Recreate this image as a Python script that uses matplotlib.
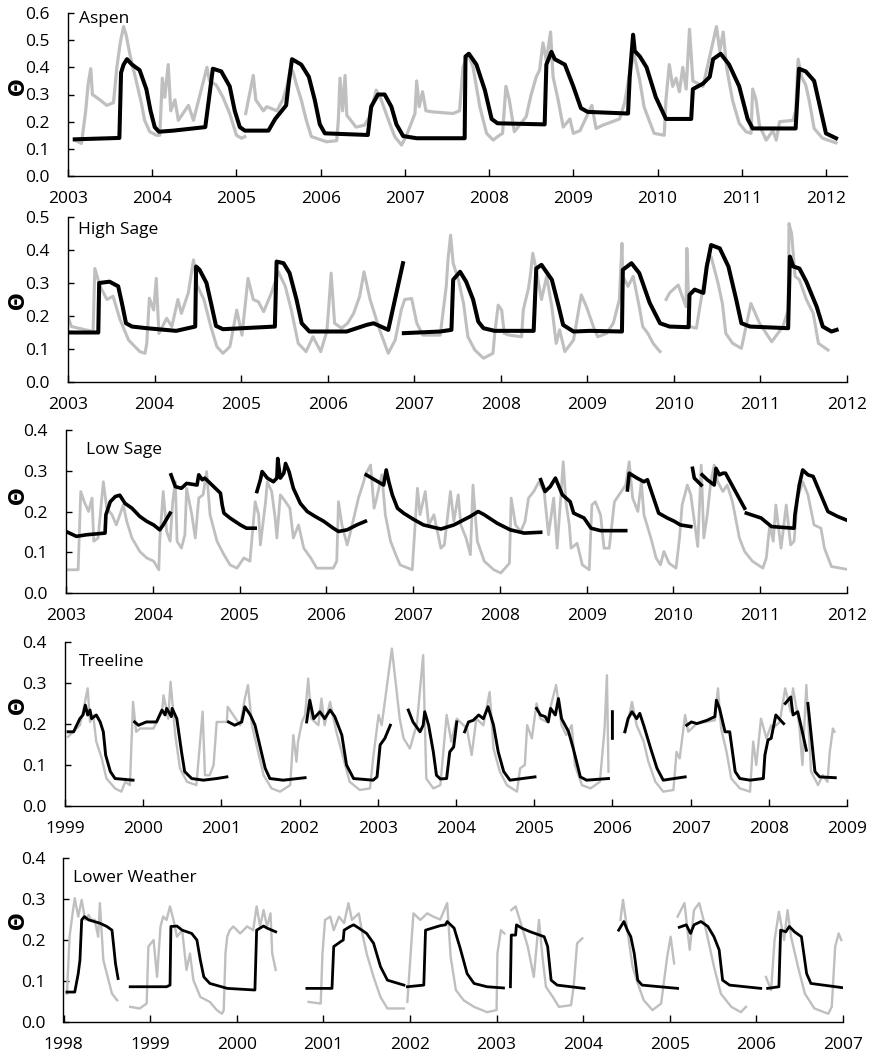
import numpy as np
import matplotlib.pyplot as plt
from matplotlib.ticker import FormatStrFormatter

plt.rcParams['font.family'] = ['Open Sans', 'DejaVu Sans']

GAP = (np.nan, np.nan)

# ---- Aspen ----
aspen_deep = [(2003.08, 0.135), (2003.60, 0.14), (2003.61, 0.14), (2003.63, 0.38), (2003.66, 0.41),
              (2003.70, 0.43), (2003.76, 0.41), (2003.85, 0.39), (2003.93, 0.32), (2003.98, 0.24),
              (2004.03, 0.18), (2004.08, 0.163), (2004.25, 0.167), (2004.63, 0.18), (2004.72, 0.395),
              (2004.82, 0.385), (2004.92, 0.33), (2004.98, 0.24), (2005.04, 0.18), (2005.10, 0.167),
              (2005.38, 0.167), (2005.46, 0.21), (2005.59, 0.26), (2005.62, 0.34), (2005.66, 0.43),
              (2005.77, 0.41), (2005.86, 0.365), (2005.93, 0.28), (2005.99, 0.19), (2006.05, 0.157),
              (2006.56, 0.151), (2006.60, 0.255), (2006.68, 0.30), (2006.76, 0.30), (2006.84, 0.255),
              (2006.90, 0.19), (2006.98, 0.147), (2007.14, 0.139), (2007.71, 0.139), (2007.72, 0.44),
              (2007.76, 0.45), (2007.85, 0.41), (2007.95, 0.316), (2008.03, 0.21), (2008.10, 0.194),
              (2008.66, 0.19), (2008.68, 0.41), (2008.74, 0.457), (2008.78, 0.43), (2008.90, 0.41),
              (2009.00, 0.33), (2009.09, 0.25), (2009.17, 0.236), (2009.65, 0.23), (2009.67, 0.365),
              (2009.71, 0.52), (2009.73, 0.46), (2009.79, 0.44), (2009.87, 0.40), (2009.98, 0.29),
              (2010.10, 0.21), (2010.40, 0.21), (2010.42, 0.32), (2010.54, 0.34), (2010.62, 0.365),
              (2010.66, 0.43), (2010.75, 0.45), (2010.85, 0.41), (2010.97, 0.33), (2011.07, 0.21),
              (2011.13, 0.175), (2011.64, 0.175), (2011.68, 0.395), (2011.76, 0.385), (2011.86, 0.35),
              (2011.94, 0.24), (2012.00, 0.157), (2012.12, 0.139)]
aspen_shallow = [(2003.08, 0.132), (2003.16, 0.12), (2003.21, 0.24), (2003.24, 0.34), (2003.27, 0.395),
                 (2003.29, 0.30), (2003.38, 0.28), (2003.46, 0.26), (2003.54, 0.27), (2003.58, 0.40),
                 (2003.62, 0.49), (2003.66, 0.55), (2003.69, 0.52), (2003.74, 0.44), (2003.81, 0.35),
                 (2003.87, 0.27), (2003.91, 0.205), (2003.97, 0.163), (2004.05, 0.15), (2004.09, 0.15),
                 (2004.12, 0.36), (2004.15, 0.29), (2004.19, 0.41), (2004.22, 0.24), (2004.27, 0.28),
                 (2004.31, 0.205), (2004.43, 0.26), (2004.49, 0.205), (2004.65, 0.40), (2004.68, 0.35),
                 (2004.76, 0.335), (2004.84, 0.29), (2004.92, 0.23), (2005.00, 0.15), (2005.06, 0.139),
                 (2005.10, 0.145), GAP, (2005.11, 0.23), (2005.20, 0.37), (2005.23, 0.28), (2005.32, 0.24),
                 (2005.36, 0.255), (2005.48, 0.24), (2005.55, 0.28), (2005.60, 0.33), (2005.64, 0.395),
                 (2005.67, 0.385), (2005.71, 0.34), (2005.77, 0.28), (2005.83, 0.205), (2005.89, 0.145),
                 (2006.07, 0.126), (2006.19, 0.13), (2006.21, 0.205), (2006.23, 0.36), (2006.26, 0.24),
                 (2006.29, 0.37), (2006.31, 0.224), (2006.42, 0.18), (2006.52, 0.187), (2006.58, 0.218),
                 (2006.66, 0.316), (2006.72, 0.28), (2006.80, 0.21), (2006.88, 0.145), (2006.96, 0.114),
                 (2007.02, 0.15), (2007.12, 0.23), (2007.14, 0.35), (2007.17, 0.255), (2007.21, 0.31),
                 (2007.25, 0.24), (2007.33, 0.236), (2007.57, 0.23), (2007.65, 0.24), (2007.69, 0.40),
                 (2007.75, 0.45), (2007.81, 0.40), (2007.89, 0.255), (2007.97, 0.157), (2008.05, 0.132),
                 (2008.10, 0.145), (2008.16, 0.157), (2008.20, 0.33), (2008.24, 0.28), (2008.30, 0.163),
                 (2008.44, 0.218), (2008.50, 0.30), (2008.56, 0.365), (2008.60, 0.39), (2008.64, 0.49),
                 (2008.68, 0.425), (2008.73, 0.53), (2008.76, 0.365), (2008.82, 0.28), (2008.88, 0.18),
                 (2008.96, 0.21), (2009.00, 0.157), (2009.08, 0.167), (2009.22, 0.26), (2009.27, 0.175),
                 (2009.35, 0.187), (2009.55, 0.21), (2009.61, 0.27), (2009.67, 0.38), (2009.72, 0.45),
                 (2009.79, 0.35), (2009.84, 0.255), (2009.90, 0.205), (2009.96, 0.157), (2010.08, 0.15),
                 (2010.10, 0.28), (2010.14, 0.41), (2010.18, 0.33), (2010.22, 0.36), (2010.26, 0.31),
                 (2010.30, 0.40), (2010.34, 0.32), (2010.38, 0.54), (2010.42, 0.35), (2010.54, 0.33),
                 (2010.62, 0.44), (2010.70, 0.55), (2010.74, 0.46), (2010.78, 0.53), (2010.82, 0.40),
                 (2010.89, 0.28), (2010.97, 0.194), (2011.05, 0.163), (2011.11, 0.157), (2011.13, 0.32),
                 (2011.17, 0.28), (2011.21, 0.187), (2011.29, 0.132), (2011.37, 0.167), (2011.41, 0.132),
                 (2011.45, 0.20), (2011.61, 0.205), (2011.64, 0.24), (2011.67, 0.43), (2011.71, 0.365),
                 (2011.76, 0.335), (2011.80, 0.28), (2011.86, 0.175), (2011.96, 0.139), (2012.12, 0.122)]

# ---- High Sage ----
high_deep = [(2003.00, 0.15), (2003.35, 0.15), (2003.36, 0.30), (2003.48, 0.304), (2003.58, 0.29),
             (2003.63, 0.23), (2003.67, 0.178), (2003.74, 0.168), (2003.91, 0.163), (2004.25, 0.155),
             (2004.47, 0.168), (2004.48, 0.35), (2004.52, 0.34), (2004.60, 0.30), (2004.66, 0.23),
             (2004.71, 0.17), (2004.79, 0.16), (2005.39, 0.168), (2005.41, 0.365), (2005.49, 0.36),
             (2005.56, 0.33), (2005.64, 0.25), (2005.70, 0.178), (2005.79, 0.153), (2006.22, 0.153),
             (2006.45, 0.173), (2006.53, 0.178), (2006.70, 0.158), (2006.87, 0.36), GAP,
             (2006.88, 0.148), (2007.30, 0.153), (2007.43, 0.158), (2007.45, 0.31), (2007.53, 0.334),
             (2007.60, 0.304), (2007.68, 0.25), (2007.74, 0.183), (2007.80, 0.163), (2007.93, 0.155),
             (2008.38, 0.155), (2008.41, 0.344), (2008.47, 0.355), (2008.59, 0.31), (2008.67, 0.228),
             (2008.72, 0.173), (2008.84, 0.153), (2009.03, 0.155), (2009.40, 0.153), (2009.41, 0.34),
             (2009.51, 0.36), (2009.60, 0.33), (2009.72, 0.24), (2009.84, 0.178), (2009.95, 0.168),
             (2010.17, 0.166), (2010.18, 0.264), (2010.24, 0.28), (2010.34, 0.27), (2010.38, 0.35),
             (2010.43, 0.415), (2010.53, 0.405), (2010.63, 0.35), (2010.72, 0.25), (2010.78, 0.178),
             (2010.88, 0.168), (2011.32, 0.163), (2011.34, 0.38), (2011.38, 0.35), (2011.45, 0.344),
             (2011.53, 0.304), (2011.65, 0.228), (2011.72, 0.168), (2011.82, 0.153), (2011.88, 0.158)]
high_shallow = [(2003.00, 0.198), (2003.04, 0.168), (2003.29, 0.153), (2003.31, 0.344), (2003.37, 0.29),
                (2003.45, 0.25), (2003.52, 0.26), (2003.60, 0.19), (2003.70, 0.127), (2003.83, 0.092),
                (2003.89, 0.087), (2003.91, 0.117), (2003.94, 0.254), (2003.99, 0.218), (2004.02, 0.314),
                (2004.05, 0.147), (2004.14, 0.193), (2004.20, 0.168), (2004.27, 0.25), (2004.31, 0.208),
                (2004.39, 0.27), (2004.45, 0.37), (2004.49, 0.294), (2004.57, 0.25), (2004.65, 0.168),
                (2004.72, 0.107), (2004.79, 0.087), (2004.87, 0.107), (2004.95, 0.218), (2005.01, 0.142),
                (2005.08, 0.314), (2005.14, 0.25), (2005.20, 0.243), (2005.26, 0.213), (2005.35, 0.27),
                (2005.43, 0.334), (2005.51, 0.29), (2005.58, 0.218), (2005.66, 0.117), (2005.75, 0.092),
                (2005.83, 0.137), (2005.92, 0.092), (2005.99, 0.153), (2006.01, 0.218), (2006.04, 0.33),
                (2006.08, 0.178), (2006.16, 0.163), (2006.23, 0.178), (2006.30, 0.208), (2006.37, 0.26),
                (2006.42, 0.334), (2006.49, 0.25), (2006.60, 0.158), (2006.70, 0.087), (2006.78, 0.127),
                (2006.85, 0.218), (2006.89, 0.25), (2006.97, 0.253), (2007.03, 0.178), (2007.10, 0.142),
                (2007.30, 0.142), (2007.37, 0.29), (2007.39, 0.37), (2007.42, 0.445), (2007.45, 0.36),
                (2007.51, 0.31), (2007.57, 0.238), (2007.62, 0.137), (2007.70, 0.097), (2007.80, 0.072),
                (2007.91, 0.087), (2007.93, 0.147), (2007.97, 0.233), (2008.01, 0.218), (2008.04, 0.147),
                (2008.10, 0.142), (2008.24, 0.137), (2008.26, 0.218), (2008.32, 0.284), (2008.34, 0.32),
                (2008.37, 0.39), (2008.41, 0.34), (2008.47, 0.25), (2008.53, 0.32), (2008.59, 0.228),
                (2008.64, 0.117), (2008.68, 0.158), (2008.74, 0.092), (2008.84, 0.127), (2008.93, 0.264),
                (2008.99, 0.228), (2009.07, 0.168), (2009.12, 0.137), (2009.22, 0.147), (2009.30, 0.178),
                (2009.37, 0.25), (2009.40, 0.42), (2009.41, 0.32), (2009.47, 0.29), (2009.53, 0.32),
                (2009.60, 0.228), (2009.64, 0.168), (2009.70, 0.147), (2009.76, 0.117), (2009.84, 0.092),
                GAP, (2009.91, 0.25), (2009.95, 0.27), (2010.05, 0.294), (2010.14, 0.228), (2010.15, 0.405),
                (2010.18, 0.168), (2010.26, 0.163), (2010.30, 0.228), (2010.34, 0.29), (2010.38, 0.36),
                (2010.43, 0.38), (2010.51, 0.30), (2010.56, 0.238), (2010.60, 0.147), (2010.68, 0.117),
                (2010.78, 0.102), (2010.89, 0.238), (2010.99, 0.178), (2011.13, 0.122), (2011.26, 0.168),
                (2011.32, 0.218), (2011.33, 0.48), (2011.36, 0.45), (2011.40, 0.32), (2011.45, 0.31),
                (2011.53, 0.25), (2011.61, 0.208), (2011.67, 0.117), (2011.78, 0.097)]

# ---- Low Sage ----
low_deep = [(2003.00, 0.151), (2003.12, 0.139), (2003.24, 0.143), (2003.45, 0.147), (2003.46, 0.192),
            (2003.51, 0.224), (2003.57, 0.237), (2003.62, 0.24), (2003.68, 0.22), (2003.76, 0.208),
            (2003.85, 0.188), (2003.93, 0.176), (2004.01, 0.167), (2004.08, 0.155), (2004.12, 0.167),
            (2004.20, 0.196), GAP, (2004.21, 0.29), (2004.26, 0.261), (2004.33, 0.257), (2004.39, 0.269),
            (2004.51, 0.265), (2004.53, 0.29), (2004.57, 0.278), (2004.60, 0.282), (2004.78, 0.245),
            (2004.80, 0.216), (2004.82, 0.196), (2004.89, 0.184), (2005.01, 0.167), (2005.08, 0.159),
            (2005.18, 0.159), GAP, (2005.20, 0.249), (2005.24, 0.278), (2005.26, 0.298), (2005.32, 0.282),
            (2005.39, 0.273), (2005.43, 0.282), (2005.44, 0.33), (2005.47, 0.282), (2005.51, 0.294),
            (2005.53, 0.318), (2005.57, 0.298), (2005.62, 0.257), (2005.70, 0.22), (2005.78, 0.20),
            (2005.87, 0.188), (2005.97, 0.176), (2006.08, 0.159), (2006.14, 0.151), (2006.24, 0.155),
            (2006.35, 0.167), (2006.45, 0.176), GAP, (2006.46, 0.29), (2006.66, 0.265), (2006.69, 0.302),
            (2006.72, 0.273), (2006.76, 0.241), (2006.82, 0.208), (2006.89, 0.196), (2007.01, 0.18),
            (2007.12, 0.167), (2007.32, 0.157), (2007.47, 0.167), (2007.66, 0.188), (2007.75, 0.20),
            (2007.82, 0.192), (2007.97, 0.171), (2008.12, 0.155), (2008.28, 0.147), (2008.47, 0.149),
            GAP, (2008.47, 0.278), (2008.52, 0.249), (2008.58, 0.261), (2008.64, 0.282), (2008.72, 0.241),
            (2008.81, 0.224), (2008.85, 0.196), (2008.97, 0.184), (2009.05, 0.159), (2009.16, 0.153),
            (2009.45, 0.153), GAP, (2009.47, 0.253), (2009.49, 0.294), (2009.58, 0.282), (2009.66, 0.273),
            (2009.70, 0.278), (2009.83, 0.196), (2009.93, 0.184), (2010.01, 0.176), (2010.08, 0.167),
            (2010.20, 0.163), GAP, (2010.22, 0.306), (2010.24, 0.282), (2010.32, 0.265), GAP,
            (2010.33, 0.29), (2010.39, 0.278), (2010.47, 0.265), (2010.49, 0.306), (2010.53, 0.29),
            (2010.57, 0.294), (2010.60, 0.294), (2010.82, 0.208), GAP, (2010.84, 0.196), (2011.01, 0.184),
            (2011.13, 0.163), (2011.39, 0.159), (2011.40, 0.192), (2011.45, 0.265), (2011.49, 0.302),
            (2011.55, 0.29), (2011.61, 0.286), (2011.78, 0.20), (2011.89, 0.188), (2012.03, 0.176)]
low_shallow = [(2003.00, 0.057), (2003.14, 0.057), (2003.17, 0.249), (2003.21, 0.224), (2003.26, 0.20),
               (2003.30, 0.233), (2003.32, 0.127), (2003.37, 0.135), (2003.43, 0.273), (2003.47, 0.208),
               (2003.53, 0.192), (2003.58, 0.167), (2003.66, 0.216), (2003.70, 0.176), (2003.76, 0.135),
               (2003.85, 0.102), (2003.93, 0.086), (2004.01, 0.078), (2004.07, 0.057), (2004.08, 0.127),
               (2004.12, 0.249), (2004.16, 0.151), (2004.20, 0.127), (2004.23, 0.224), (2004.26, 0.273),
               (2004.28, 0.127), (2004.33, 0.11), (2004.37, 0.143), (2004.39, 0.257), (2004.45, 0.192),
               (2004.49, 0.135), (2004.53, 0.233), (2004.58, 0.241), (2004.62, 0.298), (2004.66, 0.192),
               (2004.74, 0.127), (2004.82, 0.094), (2004.89, 0.069), (2004.97, 0.061), (2005.05, 0.086),
               (2005.12, 0.078), (2005.18, 0.224), (2005.22, 0.192), (2005.24, 0.118), (2005.30, 0.224),
               (2005.32, 0.273), (2005.37, 0.249), (2005.41, 0.184), (2005.43, 0.135), (2005.47, 0.241),
               (2005.53, 0.224), (2005.58, 0.208), (2005.62, 0.135), (2005.68, 0.167), (2005.74, 0.11),
               (2005.82, 0.086), (2005.89, 0.061), (2006.08, 0.061), (2006.12, 0.078), (2006.14, 0.224),
               (2006.18, 0.167), (2006.24, 0.118), (2006.28, 0.151), (2006.37, 0.233), (2006.43, 0.273),
               (2006.45, 0.29), (2006.51, 0.314), (2006.55, 0.208), (2006.58, 0.233), (2006.64, 0.29),
               (2006.68, 0.192), (2006.74, 0.127), (2006.80, 0.094), (2006.85, 0.069), (2006.99, 0.057),
               (2007.05, 0.257), (2007.08, 0.192), (2007.14, 0.249), (2007.18, 0.167), (2007.24, 0.192),
               (2007.32, 0.11), (2007.36, 0.118), (2007.43, 0.249), (2007.47, 0.176), (2007.52, 0.241),
               (2007.55, 0.167), (2007.61, 0.135), (2007.66, 0.094), (2007.69, 0.265), (2007.74, 0.127),
               (2007.82, 0.078), (2007.93, 0.057), (2008.01, 0.049), (2008.11, 0.073), (2008.13, 0.233),
               (2008.18, 0.167), (2008.24, 0.151), (2008.29, 0.176), (2008.33, 0.233), (2008.39, 0.249),
               (2008.45, 0.273), (2008.51, 0.249), (2008.56, 0.143), (2008.62, 0.233), (2008.66, 0.11),
               (2008.73, 0.322), (2008.76, 0.224), (2008.80, 0.167), (2008.82, 0.11), (2008.89, 0.122),
               (2008.95, 0.069), (2009.03, 0.057), (2009.06, 0.216), (2009.10, 0.224), (2009.16, 0.192),
               (2009.20, 0.11), (2009.26, 0.11), (2009.32, 0.224), (2009.40, 0.249), (2009.45, 0.265),
               (2009.49, 0.322), (2009.53, 0.233), (2009.59, 0.20), (2009.63, 0.273), (2009.66, 0.192),
               (2009.74, 0.135), (2009.80, 0.086), (2009.85, 0.069), (2009.89, 0.102), (2009.95, 0.073),
               (2010.03, 0.061), (2010.07, 0.135), (2010.10, 0.216), (2010.16, 0.265), (2010.20, 0.241),
               (2010.28, 0.114), (2010.32, 0.314), (2010.35, 0.135), (2010.39, 0.192), (2010.43, 0.273),
               (2010.47, 0.314), (2010.51, 0.273), (2010.57, 0.249), (2010.62, 0.265), (2010.68, 0.224),
               (2010.76, 0.135), (2010.82, 0.102), (2010.91, 0.078), (2011.03, 0.061), (2011.07, 0.086),
               (2011.11, 0.167), (2011.15, 0.127), (2011.18, 0.216), (2011.24, 0.11), (2011.30, 0.216),
               (2011.35, 0.118), (2011.39, 0.127), (2011.43, 0.233), (2011.49, 0.273), (2011.55, 0.241),
               (2011.62, 0.167), (2011.70, 0.159), (2011.74, 0.11), (2011.82, 0.065), (2012.03, 0.057)]

# ---- Treeline ----
tree_deep = [(1999.04, 0.181), (1999.11, 0.181), (1999.15, 0.197), (1999.19, 0.213), (1999.23, 0.222),
             (1999.26, 0.246), (1999.29, 0.222), (1999.32, 0.234), (1999.34, 0.213), (1999.40, 0.222),
             (1999.45, 0.205), (1999.49, 0.181), (1999.52, 0.124), (1999.58, 0.084), (1999.64, 0.067),
             (1999.87, 0.063), GAP, (1999.89, 0.205), (1999.94, 0.197), (2000.04, 0.205), (2000.17, 0.205),
             (2000.24, 0.234), (2000.28, 0.222), (2000.30, 0.238), (2000.36, 0.218), (2000.37, 0.238),
             (2000.43, 0.213), (2000.49, 0.132), (2000.53, 0.084), (2000.62, 0.067), (2000.77, 0.063),
             (2000.94, 0.067), (2001.07, 0.071), GAP, (2001.09, 0.205), (2001.17, 0.197), (2001.26, 0.205),
             (2001.30, 0.242), (2001.37, 0.222), (2001.43, 0.197), (2001.49, 0.149), (2001.56, 0.092),
             (2001.62, 0.067), (2001.79, 0.063), (2002.07, 0.069), GAP, (2002.09, 0.205), (2002.13, 0.258),
             (2002.18, 0.213), (2002.26, 0.23), (2002.32, 0.213), (2002.39, 0.234), (2002.45, 0.218),
             (2002.54, 0.173), (2002.60, 0.10), (2002.69, 0.067), (2002.94, 0.063), (2002.99, 0.071),
             (2003.03, 0.149), (2003.09, 0.165), (2003.16, 0.197), GAP, (2003.39, 0.234), (2003.45, 0.205),
             (2003.54, 0.181), (2003.58, 0.197), (2003.60, 0.23), (2003.65, 0.197), (2003.71, 0.132),
             (2003.75, 0.075), (2003.80, 0.066), (2003.88, 0.067), (2003.92, 0.132), (2003.97, 0.144),
             (2004.01, 0.205), GAP, (2004.11, 0.181), (2004.16, 0.205), (2004.22, 0.209), (2004.29, 0.222),
             (2004.35, 0.213), (2004.41, 0.242), (2004.48, 0.197), (2004.54, 0.132), (2004.61, 0.084),
             (2004.69, 0.063), (2005.01, 0.071), GAP, (2005.03, 0.238), (2005.08, 0.222), (2005.14, 0.218),
             (2005.18, 0.205), (2005.21, 0.238), (2005.27, 0.222), (2005.31, 0.262), (2005.35, 0.213),
             (2005.44, 0.181), (2005.50, 0.14), (2005.59, 0.071), (2005.67, 0.063), (2005.95, 0.067), GAP,
             (2006.00, 0.23), (2006.00, 0.165), GAP, (2006.16, 0.181), (2006.20, 0.213), (2006.25, 0.23),
             (2006.31, 0.213), (2006.35, 0.226), (2006.40, 0.197), (2006.49, 0.14), (2006.57, 0.092),
             (2006.65, 0.063), (2006.93, 0.071), GAP, (2006.95, 0.197), (2007.01, 0.205), (2007.08, 0.201),
             (2007.21, 0.209), (2007.31, 0.218), (2007.33, 0.258), (2007.37, 0.238), (2007.44, 0.181),
             (2007.50, 0.181), (2007.57, 0.084), (2007.63, 0.067), (2007.76, 0.063), (2007.93, 0.067),
             (2007.95, 0.124), (2007.99, 0.161), (2008.03, 0.165), (2008.09, 0.222), (2008.15, 0.209),
             (2008.19, 0.201), GAP, (2008.21, 0.25), (2008.28, 0.266), (2008.31, 0.222), (2008.37, 0.23),
             (2008.41, 0.197), (2008.48, 0.136), GAP, (2008.50, 0.25), (2008.55, 0.157), (2008.59, 0.084),
             (2008.65, 0.071), (2008.85, 0.069)]
tree_shallow = [(1999.04, 0.169), (1999.19, 0.197), (1999.23, 0.23), (1999.29, 0.287), (1999.32, 0.205),
                (1999.36, 0.222), (1999.40, 0.157), (1999.47, 0.116), (1999.53, 0.067), (1999.64, 0.043),
                (1999.72, 0.035), (1999.77, 0.059), (1999.83, 0.051), (1999.87, 0.254), (1999.91, 0.181),
                (1999.96, 0.189), (2000.13, 0.189), (2000.24, 0.23), (2000.26, 0.27), (2000.32, 0.213),
                (2000.35, 0.303), (2000.41, 0.173), (2000.47, 0.092), (2000.56, 0.059), (2000.68, 0.051),
                (2000.76, 0.23), (2000.79, 0.075), (2000.85, 0.075), (2000.90, 0.10), (2000.94, 0.205),
                (2001.07, 0.205), (2001.08, 0.242), (2001.24, 0.197), (2001.30, 0.262), (2001.34, 0.295),
                (2001.39, 0.197), (2001.47, 0.132), (2001.54, 0.075), (2001.64, 0.043), (2001.75, 0.035),
                (2001.88, 0.051), (2001.92, 0.173), (2001.96, 0.108), (2001.98, 0.157), (2002.03, 0.205),
                (2002.07, 0.222), (2002.11, 0.311), (2002.15, 0.213), (2002.24, 0.197), (2002.28, 0.262),
                (2002.32, 0.197), (2002.39, 0.254), (2002.47, 0.181), (2002.56, 0.116), (2002.64, 0.059),
                (2002.77, 0.039), (2002.90, 0.043), (2002.94, 0.116), (2003.01, 0.222), (2003.05, 0.197),
                (2003.18, 0.384), (2003.28, 0.213), (2003.33, 0.165), (2003.41, 0.14), (2003.50, 0.20),
                (2003.58, 0.368), (2003.62, 0.067), (2003.71, 0.043), (2003.80, 0.051), (2003.88, 0.222),
                (2003.94, 0.157), (2004.01, 0.213), (2004.14, 0.189), (2004.20, 0.124), (2004.26, 0.213),
                (2004.35, 0.197), (2004.43, 0.278), (2004.48, 0.14), (2004.56, 0.084), (2004.65, 0.051),
                (2004.78, 0.035), (2004.82, 0.092), (2004.88, 0.10), (2004.91, 0.197), (2004.97, 0.165),
                (2005.03, 0.25), (2005.08, 0.213), (2005.16, 0.205), (2005.28, 0.295), (2005.35, 0.197),
                (2005.41, 0.173), (2005.48, 0.197), (2005.52, 0.10), (2005.61, 0.051), (2005.72, 0.043),
                (2005.84, 0.059), (2005.90, 0.189), (2005.93, 0.319), (2005.95, 0.084), GAP,
                (2006.15, 0.181), (2006.19, 0.197), (2006.25, 0.254), (2006.31, 0.197), (2006.40, 0.157),
                (2006.46, 0.108), (2006.55, 0.059), (2006.65, 0.035), (2006.78, 0.039), (2006.82, 0.132),
                (2006.86, 0.116), (2006.93, 0.222), (2006.97, 0.181), (2007.08, 0.201), (2007.31, 0.209),
                (2007.35, 0.287), (2007.39, 0.189), (2007.46, 0.132), (2007.52, 0.067), (2007.63, 0.043),
                (2007.76, 0.035), (2007.80, 0.157), (2007.84, 0.10), (2007.90, 0.213), (2007.97, 0.165),
                (2008.03, 0.197), (2008.05, 0.189), (2008.14, 0.205), (2008.21, 0.287), (2008.28, 0.23),
                (2008.31, 0.287), (2008.39, 0.197), (2008.43, 0.10), (2008.48, 0.295), (2008.54, 0.084),
                (2008.63, 0.051), (2008.69, 0.075), (2008.75, 0.059), (2008.78, 0.132), (2008.82, 0.189),
                (2008.84, 0.181)]

# ---- Lower Weather ----
lower_deep = [(1998.04, 0.073), (1998.13, 0.073), (1998.17, 0.118), (1998.19, 0.151), (1998.21, 0.249),
              (1998.24, 0.257), (1998.29, 0.249), (1998.42, 0.241), (1998.50, 0.233), (1998.56, 0.224),
              (1998.58, 0.184), (1998.60, 0.143), (1998.63, 0.106), GAP, (1998.77, 0.086), (1999.19, 0.086),
              (1999.23, 0.09), (1999.24, 0.233), (1999.31, 0.234), (1999.37, 0.224), (1999.48, 0.216),
              (1999.54, 0.20), (1999.58, 0.151), (1999.62, 0.11), (1999.69, 0.094), (1999.89, 0.082),
              (2000.21, 0.078), (2000.23, 0.224), (2000.31, 0.234), (2000.35, 0.229), (2000.45, 0.22), GAP,
              (2000.81, 0.082), (2001.10, 0.082), (2001.12, 0.184), (2001.20, 0.196), (2001.23, 0.20),
              (2001.24, 0.224), (2001.31, 0.233), (2001.35, 0.237), (2001.41, 0.229), (2001.50, 0.216),
              (2001.58, 0.192), (2001.66, 0.135), (2001.74, 0.102), (2001.93, 0.09), GAP, (2001.97, 0.086),
              (2002.16, 0.09), (2002.18, 0.224), (2002.35, 0.235), (2002.41, 0.237), (2002.43, 0.245),
              (2002.51, 0.229), (2002.58, 0.18), (2002.66, 0.118), (2002.74, 0.094), (2002.89, 0.086),
              (2003.08, 0.083), GAP, (2003.16, 0.086), (2003.17, 0.212), (2003.22, 0.212), (2003.23, 0.237),
              (2003.29, 0.229), (2003.39, 0.22), (2003.55, 0.208), (2003.59, 0.184), (2003.63, 0.102),
              (2003.70, 0.09), (2004.01, 0.082), GAP, (2004.41, 0.224), (2004.47, 0.245), (2004.51, 0.224),
              (2004.55, 0.208), (2004.59, 0.167), (2004.63, 0.102), (2004.68, 0.09), (2005.09, 0.082), GAP,
              (2005.11, 0.231), (2005.19, 0.237), (2005.24, 0.216), (2005.28, 0.237), (2005.36, 0.245),
              (2005.44, 0.233), (2005.51, 0.208), (2005.57, 0.176), (2005.61, 0.102), (2005.69, 0.09),
              (2006.05, 0.082), GAP, (2006.13, 0.082), (2006.26, 0.086), (2006.28, 0.224), (2006.34, 0.22),
              (2006.38, 0.233), (2006.44, 0.22), (2006.52, 0.208), (2006.58, 0.118), (2006.63, 0.094),
              (2007.02, 0.083)]
lower_shallow = [(1998.04, 0.069), (1998.07, 0.208), (1998.11, 0.273), (1998.13, 0.302), (1998.17, 0.257),
                 (1998.21, 0.298), (1998.25, 0.249), (1998.29, 0.261), (1998.32, 0.249), (1998.36, 0.249),
                 (1998.40, 0.208), (1998.42, 0.29), (1998.46, 0.151), (1998.50, 0.118), (1998.56, 0.069),
                 (1998.62, 0.053), GAP, (1998.77, 0.037), (1998.88, 0.033), (1998.96, 0.045), (1998.98, 0.184),
                 (1999.04, 0.20), (1999.08, 0.11), (1999.12, 0.233), (1999.15, 0.257), (1999.19, 0.249),
                 (1999.23, 0.282), (1999.27, 0.249), (1999.31, 0.208), (1999.37, 0.224), (1999.42, 0.127),
                 (1999.46, 0.167), (1999.50, 0.102), (1999.58, 0.061), (1999.69, 0.049), (1999.77, 0.029),
                 (1999.83, 0.02), (1999.85, 0.029), (1999.87, 0.167), (1999.89, 0.208), (1999.92, 0.224),
                 (1999.96, 0.233), (2000.04, 0.216), (2000.12, 0.233), (2000.19, 0.224), (2000.23, 0.282),
                 (2000.27, 0.233), (2000.31, 0.273), (2000.35, 0.233), (2000.39, 0.265), (2000.41, 0.167),
                 (2000.45, 0.127), GAP, (2000.83, 0.049), (2000.97, 0.045), (2000.99, 0.167), (2001.02, 0.249),
                 (2001.08, 0.257), (2001.12, 0.224), (2001.18, 0.257), (2001.24, 0.241), (2001.29, 0.29),
                 (2001.33, 0.249), (2001.41, 0.265), (2001.45, 0.216), (2001.50, 0.167), (2001.58, 0.11),
                 (2001.66, 0.061), (2001.74, 0.033), (2001.93, 0.033), GAP, (2001.97, 0.049), (2002.04, 0.265),
                 (2002.12, 0.249), (2002.20, 0.265), (2002.27, 0.257), (2002.35, 0.25), (2002.43, 0.29),
                 (2002.47, 0.159), (2002.53, 0.078), (2002.62, 0.053), (2002.74, 0.037), (2002.89, 0.024),
                 (2003.00, 0.029), (2003.01, 0.167), (2003.05, 0.224), (2003.09, 0.216), GAP, (2003.17, 0.273),
                 (2003.22, 0.282), (2003.28, 0.241), (2003.36, 0.184), (2003.43, 0.11), (2003.49, 0.249),
                 (2003.53, 0.159), (2003.57, 0.086), (2003.65, 0.061), (2003.72, 0.037), (2003.86, 0.041),
                 (2003.89, 0.086), (2003.93, 0.192), (2003.99, 0.204), GAP, (2004.43, 0.249), (2004.46, 0.298),
                 (2004.51, 0.224), (2004.57, 0.135), (2004.63, 0.094), (2004.70, 0.053), (2004.80, 0.029),
                 (2004.90, 0.045), (2004.97, 0.159), (2005.01, 0.208), (2005.05, 0.143), GAP, (2005.09, 0.257),
                 (2005.17, 0.29), (2005.23, 0.176), (2005.28, 0.273), (2005.34, 0.29), (2005.40, 0.241),
                 (2005.46, 0.184), (2005.51, 0.135), (2005.59, 0.069), (2005.71, 0.037), (2005.82, 0.024),
                 (2005.88, 0.037), GAP, (2006.11, 0.11), (2006.17, 0.078), (2006.21, 0.20), (2006.26, 0.269),
                 (2006.32, 0.20), (2006.36, 0.273), (2006.40, 0.208), (2006.48, 0.135), (2006.56, 0.069),
                 (2006.67, 0.033), (2006.83, 0.02), (2006.87, 0.037), (2006.91, 0.184), (2006.95, 0.216),
                 (2006.98, 0.20)]

site_names = ['Aspen', 'High Sage', 'Low Sage', 'Treeline', 'Lower Weather']
deep_series = [aspen_deep, high_deep, low_deep, tree_deep, lower_deep]
shallow_series = [aspen_shallow, high_shallow, low_shallow, tree_shallow, lower_shallow]
year_ranges = [(2003, 2012), (2003, 2012), (2003, 2012), (1999, 2009), (1998, 2007)]
y_tops = [0.6, 0.5, 0.4, 0.4, 0.4]

# layout in pixels: left, right, top, bottom of each plot area
W, H = 878, 1058
boxes = [(68, 847, 13, 176), (68, 847, 217, 382), (66, 847, 430, 593),
         (65, 847, 642, 806), (63.5, 843, 858, 1022)]
x_right = [2012.25, 2012, 2012, 2009, 2007]
name_pos = [(0.014, 0.963), (0.013, 0.92), (0.026, 0.877), (0.018, 0.878), (0.012, 0.878)]
theta_y = [86, 300, 495, 705, 920]
thick = [(2.9, 2.3), (2.9, 2.2), (2.6, 2.0), (2.1, 1.7), (2.0, 1.7)]

fig = plt.figure(figsize=(W / 100, H / 100), dpi=100)

for i in range(5):
    l, r, t, b = boxes[i]
    ax = fig.add_axes([l / W, 1 - b / H, (r - l) / W, (b - t) / H])
    ts, vs = zip(*shallow_series[i])
    td, vd = zip(*deep_series[i])
    ax.plot(ts, vs, color='#bfbfbf', lw=thick[i][1], solid_joinstyle='round')
    ax.plot(td, vd, color='black', lw=thick[i][0], solid_joinstyle='round')

    y0, y1 = year_ranges[i]
    ax.set_xlim(y0, x_right[i])
    ax.set_ylim(0, y_tops[i])
    ax.set_xticks(range(y0, y1 + 1))
    ax.set_yticks(np.arange(0, y_tops[i] + 0.001, 0.1))
    ax.yaxis.set_major_formatter(FormatStrFormatter('%.1f'))
    for side in ['top', 'right']:
        ax.spines[side].set_visible(False)
    ax.spines['left'].set_linewidth(1.0)
    ax.spines['bottom'].set_linewidth(1.0)
    ax.tick_params(axis='x', direction='in', length=5, width=1.0, pad=11, labelsize=12.5)
    ax.tick_params(axis='y', direction='in', length=4, width=1.0, pad=13, labelsize=12.5)

    ax.text(name_pos[i][0], name_pos[i][1], site_names[i], transform=ax.transAxes,
            ha='left', va='center', fontsize=12.5)
    fig.text(18 / W, 1 - theta_y[i] / H, 'Θ', rotation=90, fontweight='bold',
             family='DejaVu Sans', ha='center', va='center', fontsize=15)

plt.savefig('out.png', dpi=100)
